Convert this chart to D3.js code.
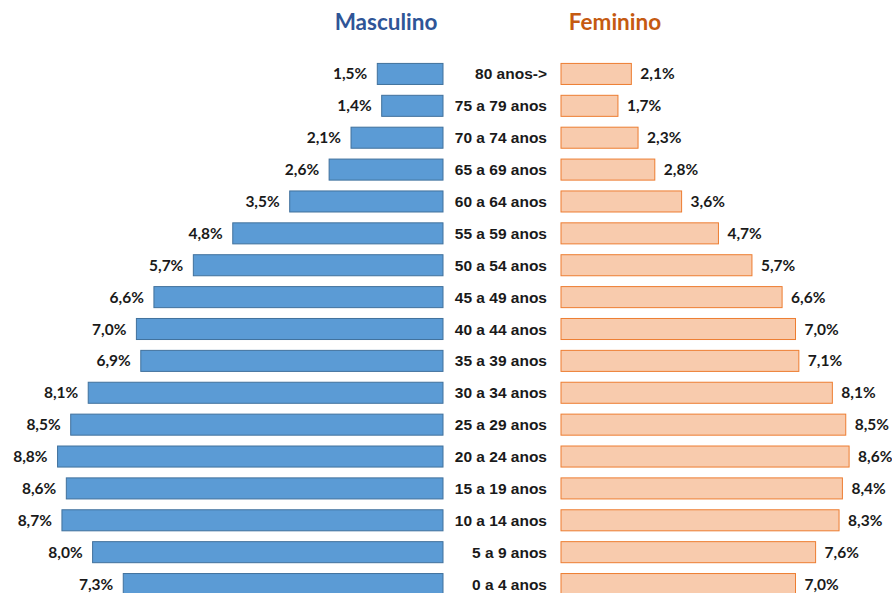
<!DOCTYPE html>
<html>
<head>
<meta charset="utf-8">
<script src="https://cdn.jsdelivr.net/npm/d3@7"></script>
<style>
  body { margin: 0; background: #fff; }
</style>
</head>
<body>
<div id="chart"></div>
<script>
const ageGroups = ['80 anos->', '75 a 79 anos', '70 a 74 anos', '65 a 69 anos', '60 a 64 anos',
  '55 a 59 anos', '50 a 54 anos', '45 a 49 anos', '40 a 44 anos', '35 a 39 anos', '30 a 34 anos',
  '25 a 29 anos', '20 a 24 anos', '15 a 19 anos', '10 a 14 anos', '5 a 9 anos', '0 a 4 anos']
const masculino = [1.5, 1.4, 2.1, 2.6, 3.5, 4.8, 5.7, 6.6, 7.0, 6.9, 8.1, 8.5, 8.8, 8.6, 8.7, 8.0, 7.3]
const feminino = [2.1, 1.7, 2.3, 2.8, 3.6, 4.7, 5.7, 6.6, 7.0, 7.1, 8.1, 8.5, 8.6, 8.4, 8.3, 7.6, 7.0]
const seriesNames = ['Masculino', 'Feminino']

const width = 892
const height = 593
const fmt = v => d3.format('.1f')(v).replace('.', ',') + '%'

const svg = d3.select('#chart')
  .append('svg')
  .attr('width', width)
  .attr('height', height)

const y = d3.scaleBand().domain(ageGroups).range([58, 600]).paddingInner(0.34).paddingOuter(0.17)
const xMale = d3.scaleLinear().domain([0, 10]).range([443, 5])
const xFemale = d3.scaleLinear().domain([0, 10]).range([561, 896])

const labelFont = '"Liberation Sans", Arial, sans-serif'
const valueFont = 'Lato, "Open Sans", sans-serif'

// titles
svg.append('text')
  .text(seriesNames[0])
  .attr('x', 386)
  .attr('y', 30)
  .attr('text-anchor', 'middle')
  .style('font-family', valueFont)
  .style('font-weight', 'bold')
  .style('font-size', '22.5px')
  .attr('fill', '#2F5597')
svg.append('text')
  .text(seriesNames[1])
  .attr('x', 615)
  .attr('y', 30)
  .attr('text-anchor', 'middle')
  .style('font-family', valueFont)
  .style('font-weight', 'bold')
  .style('font-size', '22.5px')
  .attr('fill', '#C55A11')

const rows = ageGroups.map((g, i) => ({ g, m: masculino[i], f: feminino[i] }))

// male bars
svg.append('g').selectAll('rect')
  .data(rows)
  .join('rect')
  .attr('x', d => xMale(d.m))
  .attr('y', d => y(d.g))
  .attr('width', d => xMale(0) - xMale(d.m))
  .attr('height', y.bandwidth())
  .attr('fill', '#5B9BD5')
  .attr('stroke', '#41719C')
  .attr('stroke-width', 1)

// female bars
svg.append('g').selectAll('rect')
  .data(rows)
  .join('rect')
  .attr('x', xFemale(0))
  .attr('y', d => y(d.g))
  .attr('width', d => xFemale(d.f) - xFemale(0))
  .attr('height', y.bandwidth())
  .attr('fill', '#F8CBAD')
  .attr('stroke', '#ED7D31')
  .attr('stroke-width', 1)

// value labels
svg.append('g').selectAll('text')
  .data(rows)
  .join('text')
  .text(d => fmt(d.m))
  .attr('x', d => xMale(d.m) - 10)
  .attr('y', d => y(d.g) + y.bandwidth() / 2 + 5.5)
  .attr('text-anchor', 'end')
  .style('font-family', valueFont)
  .style('font-weight', 'bold')
  .style('font-size', '15.5px')
  .attr('fill', '#1a1a1a')

svg.append('g').selectAll('text')
  .data(rows)
  .join('text')
  .text(d => fmt(d.f))
  .attr('x', d => xFemale(d.f) + 9)
  .attr('y', d => y(d.g) + y.bandwidth() / 2 + 5.5)
  .attr('text-anchor', 'start')
  .style('font-family', valueFont)
  .style('font-weight', 'bold')
  .style('font-size', '15.5px')
  .attr('fill', '#1a1a1a')

// category labels
svg.append('g').selectAll('text')
  .data(rows)
  .join('text')
  .text(d => d.g)
  .attr('x', 547)
  .attr('y', d => y(d.g) + y.bandwidth() / 2 + 5.5)
  .attr('text-anchor', 'end')
  .style('font-family', labelFont)
  .style('font-weight', 'bold')
  .style('font-size', '15.5px')
  .attr('fill', '#1a1a1a')
</script>
</body>
</html>
